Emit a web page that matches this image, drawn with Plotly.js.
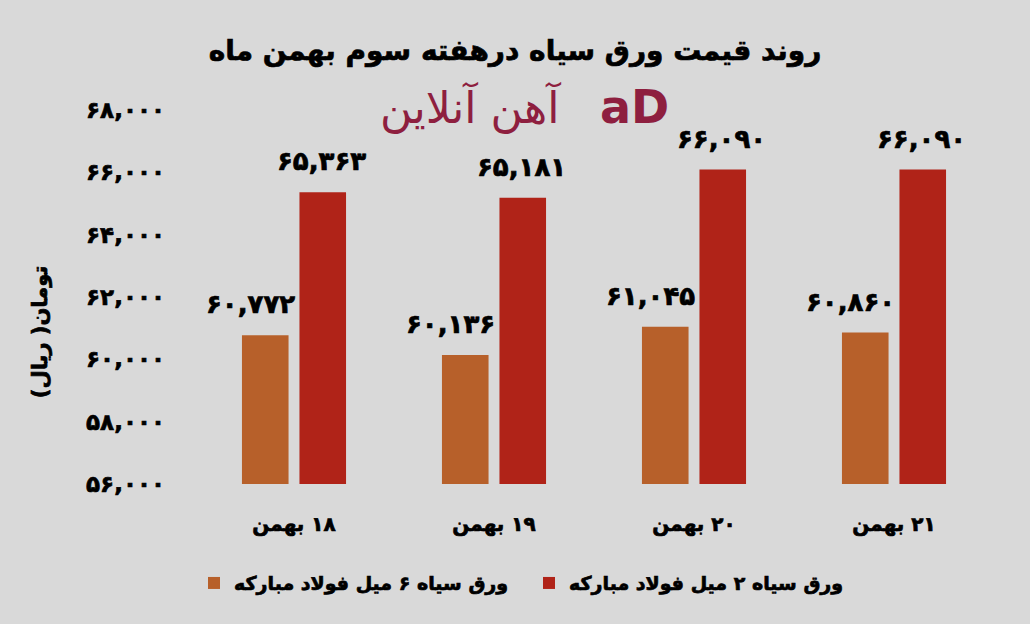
<!DOCTYPE html>
<html>
<head>
<meta charset="utf-8">
<script src="https://cdn.plot.ly/plotly-3.0.1.min.js"></script>
<style>
html,body{margin:0;padding:0;background:#d9d9d9;}
.main-svg text[style*="fill: rgb(0, 0, 0)"]{stroke:#000;stroke-width:0.7px;}
</style>
</head>
<body>
<div id="chart" style="width:1030px;height:624px;"></div>
<script>
var RLM = '\u200F';
var categories = ['۱۸ بهمن', '۱۹ بهمن', '۲۰ بهمن', '۲۱ بهمن'];
var seriesNames = ['ورق سیاه ۶ میل فولاد مبارکه', 'ورق سیاه ۲ میل فولاد مبارکه'];
var values6mm = [60772, 60136, 61045, 60860];
var values2mm = [65363, 65181, 66090, 66090];
var labels6mm = ['۶۰,۷۷۲', '۶۰,۱۳۶', '۶۱,۰۴۵', '۶۰,۸۶۰'];
var labels2mm = ['۶۵,۳۶۳', '۶۵,۱۸۱', '۶۶,۰۹۰', '۶۶,۰۹۰'];
var tickValues = [56000, 58000, 60000, 62000, 64000, 66000, 68000];
var tickLabels = ['۵۶,۰۰۰', '۵۸,۰۰۰', '۶۰,۰۰۰', '۶۲,۰۰۰', '۶۴,۰۰۰', '۶۶,۰۰۰', '۶۸,۰۰۰'];
var titleText = 'روند قیمت ورق سیاه درهفته سوم بهمن ماه';
var yTitleText = 'تومان( ریال)';
var logoText = 'آهن آنلاین';

var FONT = 'DejaVu Sans, sans-serif';
var catLabels = categories.map(function (c) { return RLM + c; });

var traces = [
  {type: 'bar', name: RLM + seriesNames[0], x: catLabels, y: values6mm,
   marker: {color: '#b7602a'}, hoverinfo: 'none'},
  {type: 'bar', name: RLM + seriesNames[1], x: catLabels, y: values2mm,
   marker: {color: '#b02318'}, hoverinfo: 'none'}
];

var annotations = [];
catLabels.forEach(function (c, i) {
  annotations.push({x: c, y: values6mm[i], xref: 'x', yref: 'y', text: labels6mm[i],
    showarrow: false, xshift: -44, yshift: 31, yanchor: 'middle',
    font: {family: FONT, size: 26, color: '#000', weight: 'bold'}});
  annotations.push({x: c, y: values2mm[i], xref: 'x', yref: 'y', text: labels2mm[i],
    showarrow: false, xshift: 27, yshift: 31, yanchor: 'middle',
    font: {family: FONT, size: 26, color: '#000', weight: 'bold'}});
});
annotations.push({xref: 'paper', yref: 'paper', x: -0.1925, y: 0.406, text: RLM + yTitleText + RLM,
  textangle: -90, showarrow: false, xanchor: 'center', yanchor: 'middle',
  font: {family: FONT, size: 21, color: '#000', weight: 'bold'}});
annotations.push({xref: 'paper', yref: 'paper', x: 0.345, y: 1.008, text: logoText,
  showarrow: false, xanchor: 'center', yanchor: 'middle',
  font: {family: FONT, size: 44, color: '#8e1f3f'}});
annotations.push({xref: 'paper', yref: 'paper', x: 0.55, y: 1.008, text: 'aD',
  showarrow: false, xanchor: 'center', yanchor: 'middle',
  font: {family: FONT, size: 46, color: '#8e1f3f', weight: 'bold'}});

var layout = {
  width: 1030, height: 624,
  paper_bgcolor: '#d9d9d9', plot_bgcolor: '#d9d9d9',
  margin: {l: 194, r: 36, t: 110, b: 140},
  title: {text: titleText, x: 0.5, xref: 'container', xanchor: 'center', y: 1 - 50 / 624, yanchor: 'middle',
    font: {family: FONT, size: 28, color: '#000', weight: 'bold'}},
  barmode: 'group', bargap: 0.425, bargroupgap: 0.19,
  showlegend: true,
  legend: {orientation: 'h', x: 0.0, xanchor: 'left', y: -0.265, yanchor: 'middle',
    font: {family: FONT, size: 19, color: '#000', weight: 'bold'}, bgcolor: 'rgba(0,0,0,0)',
    traceorder: 'normal', itemclick: false, entrywidth: 290},
  xaxis: {type: 'category', showgrid: false, zeroline: false, showline: false, ticks: '',
    ticklabelstandoff: 26,
    tickfont: {family: FONT, size: 20, color: '#000', weight: 'bold'}},
  yaxis: {range: [56000, 68000], showgrid: false, zeroline: false, showline: false, ticks: '',
    tickvals: tickValues, ticktext: tickLabels, ticklabelstandoff: 28,
    tickfont: {family: FONT, size: 23, color: '#000', weight: 'bold'}},
  annotations: annotations
};

Plotly.newPlot('chart', traces, layout, {displayModeBar: false, staticPlot: true});
</script>
</body>
</html>
